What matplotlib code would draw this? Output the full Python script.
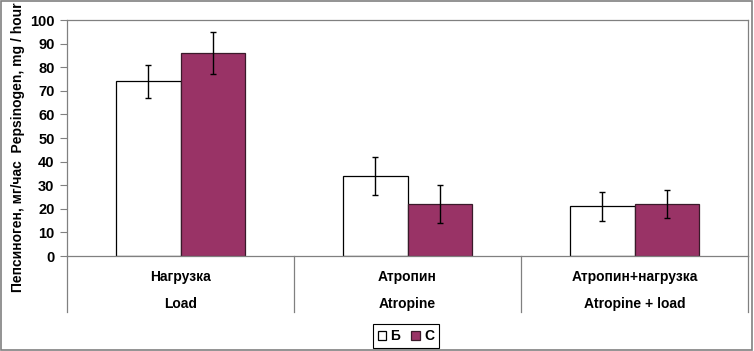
import matplotlib.pyplot as plt
from matplotlib.patches import Rectangle
import numpy as np

plt.rcParams['font.family'] = ['Liberation Sans', 'DejaVu Sans']
plt.rcParams['font.weight'] = 'bold'

groups_ru = ["Нагрузка", "Атропин", "Атропин+нагрузка"]
groups_en = ["Load", "Atropine", "Atropine + load"]
b_vals = [74, 34, 21]
b_err = [7, 8, 6]
c_vals = [86, 22, 22]
c_err = [9, 8, 6]
series_names = ["Б", "С"]

fig = plt.figure(figsize=(7.54, 3.51), dpi=100)
ax = fig.add_axes([67 / 754, 1 - 256 / 351, (748 - 67) / 754, 236 / 351])

x = np.arange(len(groups_ru))
w = 0.286
ekw = dict(ecolor="black", elinewidth=1.0, capsize=2.5, capthick=1.0)
ax.bar(x - w / 2, b_vals, w, yerr=b_err, color="white", edgecolor="black",
       linewidth=0.9, label=series_names[0], error_kw=ekw)
ax.bar(x + w / 2, c_vals, w, yerr=c_err, color="#993366", edgecolor="#3a1a2a",
       linewidth=0.9, label=series_names[1], error_kw=ekw)

ax.set_xlim(-0.5, 2.5)
ax.set_ylim(0, 100)
ax.set_yticks(range(0, 101, 10))
ax.tick_params(axis="y", labelsize=10.5, length=5, width=0.8, color="#808080", pad=4)
ax.set_xticks([])
for s in ax.spines.values():
    s.set_color("#808080")
    s.set_linewidth(0.9)

# category separators and two-line labels below the axis
for xs in [-0.5, 0.5, 1.5, 2.5]:
    ax.plot([xs, xs], [0, -0.237], color="#808080", lw=0.9,
            transform=ax.get_xaxis_transform(), clip_on=False)
for i in range(len(groups_ru)):
    ax.text(x[i], -0.089, groups_ru[i], transform=ax.get_xaxis_transform(),
            ha="center", va="center", fontsize=10)
    ax.text(x[i], -0.203, groups_en[i], transform=ax.get_xaxis_transform(),
            ha="center", va="center", fontsize=10)

fig.text(18 / 754, 1 - 147 / 351, "Пепсиноген, мг/час  Pepsinogen, mg / hour",
         rotation=90, ha="center", va="center", fontsize=10)

leg = fig.legend(loc="center", bbox_to_anchor=(406 / 754, 1 - 336 / 351), ncol=2,
                 fontsize=10, handlelength=0.6, handleheight=0.6,
                 handletextpad=0.3, columnspacing=0.8, borderpad=0.35,
                 fancybox=False, framealpha=1)
leg.get_frame().set_edgecolor("black")
leg.get_frame().set_linewidth(0.8)

fig.patches.append(Rectangle((0.001, 0.004), 0.997, 0.994, transform=fig.transFigure,
                             fill=False, edgecolor="#808080", lw=1.2))

fig.savefig("out.png", dpi=100)
